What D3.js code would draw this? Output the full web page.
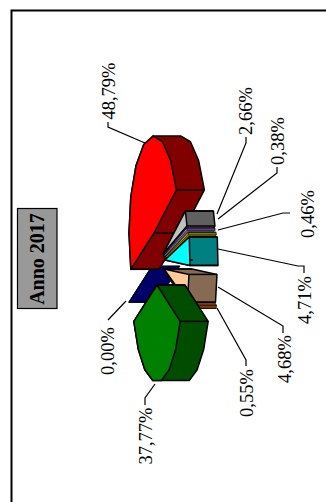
<!DOCTYPE html>
<html lang="it">
<head>
  <meta charset="UTF-8">
  <title>Anno 2017</title>
  <script src="https://d3js.org/d3.v7.min.js"></script>
  <style>
    html, body { margin: 0; padding: 0; background: #fff; overflow: hidden; }
    svg { display: block; }
    text { font-family: "Liberation Serif", serif; fill: #000; }
  </style>
</head>
<body>
  <svg id="chart" width="326" height="502"></svg>
  <script>
    const names = ["rosso", "grigio", "viola", "oliva", "ciano", "pesca", "arancio", "verde", "blu"];
    const values = [48.79, 2.66, 0.38, 0.46, 4.71, 4.68, 0.55, 37.77, 0.00];
    const labels = ["48,79%", "2,66%", "0,38%", "0,46%", "4,71%", "4,68%", "0,55%", "37,77%", "0,00%"];
    const title = "Anno 2017";

    const faceColors = ["#ff0000", "#c0c0c0", "#b9a6e8", "#b5b500", "#00ffff", "#ffcc99", "#e07020", "#008000", "#000066"];
    const wallColors = ["#800000", "#606060", "#75559c", "#808000", "#008080", "#866b52", "#803c10", "#004d00", "#000066"];

    // centro di ogni fetta esplosa, in pixel
    const centers = {
      rosso: [154, 233], grigio: [163, 254], viola: [163, 256], oliva: [164, 258],
      ciano: [165, 260], pesca: [164, 269], arancio: [165, 272], verde: [157, 285], blu: [152, 266]
    };
    // ordine di disegno, dal fondo verso chi guarda
    const drawOrder = ["blu", "rosso", "grigio", "viola", "oliva", "ciano", "arancio", "pesca", "verde"];

    // linee di richiamo e posizione delle etichette
    const leaders = {
      rosso: [[145, 143], [108, 127], [108, 122]],
      grigio: [[217, 214], [246, 143], [246, 137]],
      viola: [[218, 219], [277, 173], [277, 167]],
      oliva: [[218, 230], [283, 213], [290, 213]],
      ciano: [[218, 249], [298, 266], [304, 266], [304, 273]],
      pesca: [[218, 287], [283, 326], [283, 333]],
      arancio: [[217, 308], [246, 360], [246, 366]],
      verde: [[155, 384], [145, 398], [145, 405]],
      blu: [[126, 301], [108, 320]]
    };
    const labelPos = {
      rosso: [109, 91], grigio: [246, 111], viola: [278, 141], oliva: [308, 214],
      ciano: [305, 300], pesca: [285, 359], arancio: [247, 393], verde: [146, 436], blu: [108, 351]
    };

    const depth = 28;
    const xRadius = d3.scaleLinear().domain([-1, 1]).range([-25, 25]);
    const yRadius = d3.scaleLinear().domain([-1, 1]).range([-97, 97]);

    const pie = d3.pie().sort(null)
      .startAngle(248 * Math.PI / 180)
      .endAngle((248 + 360) * Math.PI / 180);
    const slices = pie(values);

    const svg = d3.select("#chart");
    const line = d3.line();

    svg.append("path")
      .attr("d", "M11.5,503V10.5H327")
      .attr("fill", "none").attr("stroke", "#000").attr("stroke-width", 2);

    // vertici del contorno: il grafico originale ha archi spezzati, non lisci
    function arcPoints(d, c) {
      const span = d.endAngle - d.startAngle;
      const n = Math.max(1, Math.ceil(span / (22 * Math.PI / 180)));
      return d3.range(n + 1).map(i => {
        const a = d.startAngle + span * i / n;
        return [c[0] + xRadius(Math.sin(a)), c[1] + yRadius(-Math.cos(a))];
      });
    }
    const shift = p => [p[0] + depth, p[1]];

    drawOrder.forEach(name => {
      const i = names.indexOf(name);
      const c = centers[name];
      const arc = arcPoints(slices[i], c);
      const face = [c, ...arc];
      const g = svg.append("g");
      const hull = d3.polygonHull([...face, ...face.map(shift)]);
      // le fette sottilissime sparirebbero sotto un bordo pieno
      const thin = slices[i].endAngle - slices[i].startAngle < 3 * Math.PI / 180;
      const sw = thin ? 0.7 : 1.5;

      g.append("path")
        .attr("d", line(hull) + "Z")
        .attr("fill", wallColors[i]).attr("stroke", "#000").attr("stroke-width", sw)
        .attr("stroke-linejoin", "round");

      // spigoli del taglio
      [c, arc[0], arc[arc.length - 1]].forEach(p => {
        g.append("path")
          .attr("d", line([p, shift(p)]))
          .attr("stroke", "#000").attr("stroke-width", sw);
      });

      g.append("path")
        .attr("d", line(face) + "Z")
        .attr("fill", faceColors[i]).attr("stroke", "#000").attr("stroke-width", sw)
        .attr("stroke-linejoin", "round");
    });

    names.forEach((name, i) => {
      svg.append("path")
        .attr("d", line(leaders[name]))
        .attr("fill", "none").attr("stroke", "#000").attr("stroke-width", 1.2);

      const p = labelPos[name];
      svg.append("text")
        .attr("transform", `translate(${p[0]},${p[1]}) rotate(-90)`)
        .attr("text-anchor", "middle")
        .attr("dy", "0.34em")
        .attr("font-size", 18.5)
        .text(labels[i]);
    });

    // riquadro del titolo
    svg.append("rect")
      .attr("x", 17.5).attr("y", 208.5).attr("width", 39.5).attr("height", 100)
      .attr("fill", "#999999").attr("stroke", "#000").attr("stroke-width", 1.2);
    svg.append("text")
      .attr("transform", "translate(37.5,259) rotate(-90)")
      .attr("text-anchor", "middle")
      .attr("dy", "0.34em")
      .attr("font-size", 20)
      .attr("font-weight", "bold")
      .text(title);
  </script>
</body>
</html>
